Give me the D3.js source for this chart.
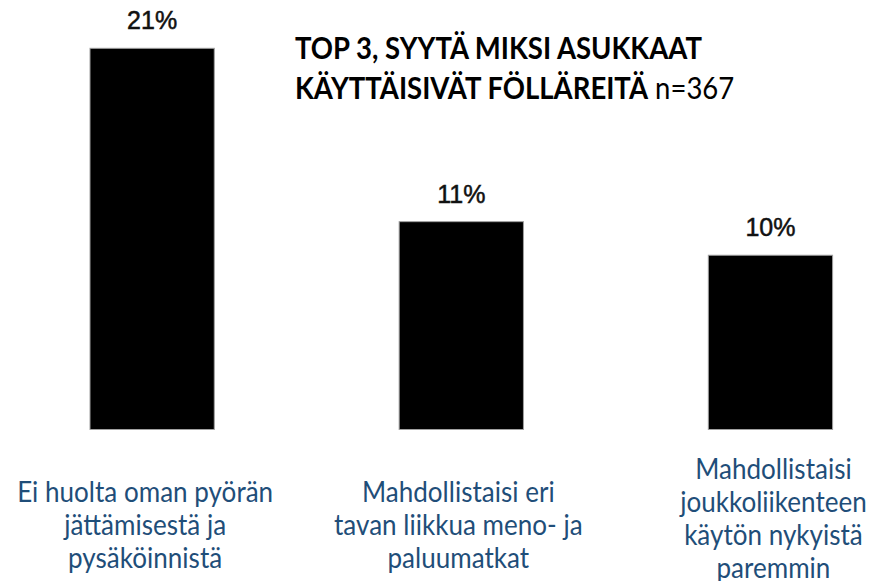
<!DOCTYPE html>
<html>
<head>
<meta charset="utf-8">
<script src="https://cdn.jsdelivr.net/npm/d3@7/dist/d3.min.js"></script>
<style>
  html, body { margin: 0; padding: 0; background: #ffffff; }
  svg { display: block; }
</style>
</head>
<body>
<svg id="chart" width="873" height="581"></svg>
<script>
// ---- data ----
const categories = [
  ["Ei huolta oman pyörän", "jättämisestä ja", "pysäköinnistä"],
  ["Mahdollistaisi eri", "tavan liikkua meno- ja", "paluumatkat"],
  ["Mahdollistaisi", "joukkoliikenteen", "käytön nykyistä", "paremmin"]
];
const values = [21, 11.45, 9.6];
const titleLine1 = "TOP 3, SYYTÄ MIKSI ASUKKAAT";
const titleLine2Bold = "KÄYTTÄISIVÄT FÖLLÄREITÄ";
const titleLine2Rest = " n=367";

// ---- layout ----
const svg = d3.select("#chart");
const ids = d3.range(categories.length);

const x = d3.scaleBand()
  .domain(ids)
  .range([90, 832.6])
  .paddingInner(0.598)
  .paddingOuter(0);

const y = d3.scaleLinear()
  .domain([0, 21])
  .range([429.5, 48.3]);

// bars
svg.append("g").selectAll("rect")
  .data(values)
  .join("rect")
  .attr("x", (d, i) => x(i))
  .attr("y", d => y(d))
  .attr("width", x.bandwidth())
  .attr("height", d => y(0) - y(d))
  .attr("fill", "#000000")
  .attr("stroke", "#a0a0a0")
  .attr("stroke-width", 1);

// value labels
svg.append("g").selectAll("text")
  .data(values)
  .join("text")
  .attr("x", (d, i) => x(i) + x.bandwidth() / 2)
  .attr("y", d => y(d) - 19)
  .attr("text-anchor", "middle")
  .attr("font-family", "'Liberation Sans', Arial, sans-serif")
  .attr("font-size", 25)
  .attr("fill", "#111111")
  .attr("stroke", "#111111")
  .attr("stroke-width", 0.5)
  .text(d => Math.round(d) + "%");

// Calibri-like -> Lato, drawn taller and compressed horizontally
const labelFont = "Lato, 'Open Sans', sans-serif";
function measure(text, weight, size) {
  const t = svg.append("text")
    .attr("font-family", labelFont)
    .attr("font-weight", weight)
    .attr("font-size", size)
    .text(text);
  const w = t.node().getComputedTextLength();
  t.remove();
  return w;
}

// category labels
const catBig = 100 * 256 / measure(categories[0][0], 400, 100) * 1.1;
const catSx = 256 / measure(categories[0][0], 400, catBig);
const lineH = 33;
const labelDx = [-7, -3, 3];
const labelDy = [0, 0, -6];
const labelCenter = 535;

const catG = svg.append("g");
categories.forEach((lines, i) => {
  const cx = x(i) + x.bandwidth() / 2 + labelDx[i];
  const first = labelCenter - (lines.length - 1) * lineH / 2 + labelDy[i];
  const t = catG.append("g")
    .attr("transform", `translate(${cx},0) scale(${catSx},1)`)
    .append("text")
    .attr("text-anchor", "middle")
    .attr("font-family", labelFont)
    .attr("font-size", catBig)
    .attr("fill", "#1f4e79");
  lines.forEach((ln, j) => {
    t.append("tspan")
      .attr("x", 0)
      .attr("y", first + j * lineH)
      .text(ln);
  });
});

// title
const titleBig = 100 * 407 / measure(titleLine1, 700, 100) * 1.14;
const titleSx = 407 / measure(titleLine1, 700, titleBig);
const tg = svg.append("g")
  .attr("transform", `translate(295,0) scale(${titleSx},1)`)
  .attr("font-family", labelFont)
  .attr("font-size", titleBig)
  .attr("fill", "#000000");
tg.append("text")
  .attr("x", 0).attr("y", 59)
  .attr("font-weight", 700)
  .text(titleLine1);
const t2 = tg.append("text").attr("x", 0).attr("y", 99);
t2.append("tspan").attr("font-weight", 700).text(titleLine2Bold);
t2.append("tspan").attr("font-weight", 400).text(titleLine2Rest);
</script>
</body>
</html>
